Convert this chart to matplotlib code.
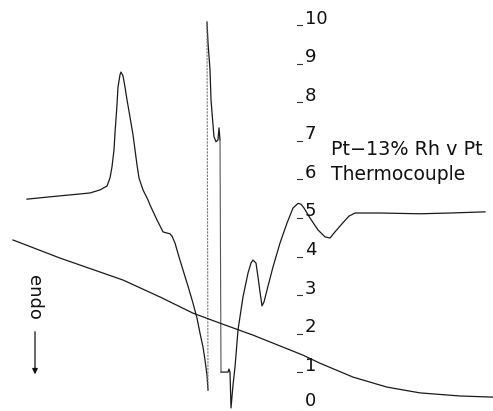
import matplotlib
matplotlib.use("Agg")
import matplotlib.pyplot as plt

# DTA trace (arbitrary time units along x, deflection on the 0-10 scale)
dta_t = [27, 50, 70, 90, 100, 107, 110, 112, 114, 115, 117, 118, 120, 121, 123, 125, 127, 130,
         133, 135, 137, 139, 143, 148, 150, 157, 163, 167, 170, 172, 175, 179, 183, 188, 193,
         197, 200, 203, 205, 207, 208, 207, 208, 210, 211, 213, 214, 216, 218, 219, 220, 221,
         228, 229, 230, 231, 233, 235, 238, 241, 243, 248, 251, 253, 256, 258, 260, 262, 264,
         267, 273, 280, 287, 293, 298, 301, 304, 310, 318, 325, 330, 335, 342, 349, 355, 380,
         420, 450, 485]
dta_v = [5.32, 5.38, 5.43, 5.48, 5.56, 5.66, 5.87, 6.16, 6.60, 7.04, 7.77, 8.23, 8.55, 8.62,
         8.52, 8.23, 7.90, 7.45, 6.99, 6.60, 6.21, 5.87, 5.56, 5.30, 5.17, 4.78, 4.47, 4.44,
         4.42, 4.36, 4.18, 3.82, 3.48, 3.06, 2.62, 2.23, 1.84, 1.48, 1.14, 0.75, 0.36, 9.92,
         9.38, 8.68, 7.90, 7.25, 6.94, 6.81, 6.86, 7.17, 6.86, 0.83, 0.83, 0.91, 0.83, -0.10,
         0.49, 0.96, 1.92, 2.44, 2.78, 3.40, 3.66, 3.74, 3.66, 3.30, 2.91, 2.55, 2.65, 2.96,
         3.56, 4.18, 4.70, 5.09, 5.21, 5.19, 5.09, 4.83, 4.52, 4.34, 4.31, 4.47, 4.68, 4.88,
         4.96, 4.96, 4.94, 4.96, 4.99]

# thermocouple (temperature) trace
tc_t = [13, 60, 123, 160, 193, 220, 253, 303, 320, 353, 387, 420, 460, 493]
tc_v = [4.26, 3.79, 3.22, 2.78, 2.36, 2.10, 1.79, 1.27, 1.06, 0.70, 0.44, 0.29, 0.21, 0.18]

scale_vals = [0, 1, 2, 3, 4, 5, 6, 7, 8, 9, 10]
scale_labels = ["0", "1", "2", "3", "4", "5", "6", "7", "8", "9", "10"]

fig = plt.figure(figsize=(4.93, 4.11), dpi=100)
ax = fig.add_axes([0, 0, 1, 1])
ax.set_xlim(0, 493)
ax.set_ylim(-0.18, 10.49)
ax.axis("off")

ink = "#1a1a1a"
# pen strokes; the two fast vertical sweeps are drawn fainter, as on the chart
ax.plot(dta_t[:41], dta_v[:41], color=ink, lw=0.9)
ax.plot(dta_t[41:51], dta_v[41:51], color=ink, lw=0.9)
ax.plot(dta_t[51:], dta_v[51:], color=ink, lw=0.9)
ax.plot(dta_t[40:42], dta_v[40:42], color="#777777", lw=0.8, ls=(0, (2, 1)))
ax.plot(dta_t[50:52], dta_v[50:52], color="#555555", lw=0.8)
ax.plot(tc_t, tc_v, color=ink, lw=0.9)

# scale on the right
for v, lab in zip(scale_vals, scale_labels):
    ax.plot([297, 302], [v - 0.17, v - 0.17], color="#333333", lw=0.8)
    ax.text(305, v + (0.08 if v == 0 else 0), lab, fontsize=13, va="center", ha="left",
            color="#111111")

ax.text(331, 6.60, "Pt\u221213% Rh v Pt", fontsize=13.8, va="center", ha="left", color="#111111")
ax.text(331, 5.95, "Thermocouple", fontsize=13.5, va="center", ha="left", color="#111111")

# endo label with arrow
ax.text(34, 2.78, "endo", fontsize=13, rotation=270, va="center", ha="center", color="#111111")
ax.annotate("", xy=(35, 0.70), xytext=(35, 1.95),
            arrowprops=dict(arrowstyle="-|>", color="#111111", lw=0.9, mutation_scale=8))

fig.savefig("out.png", dpi=100, facecolor="white")
